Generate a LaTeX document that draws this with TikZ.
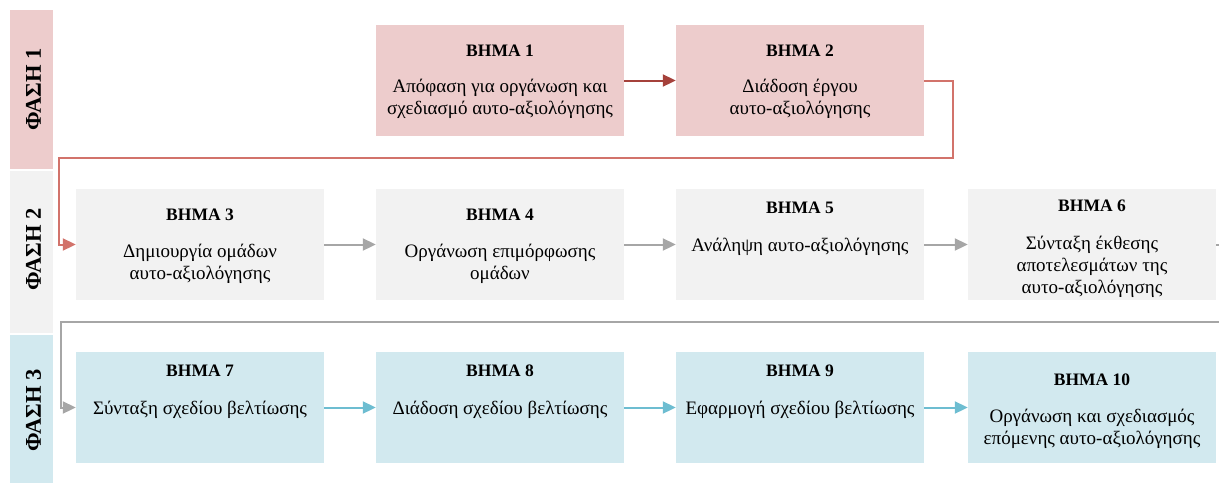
\documentclass[tikz,border=0pt]{standalone}
\usepackage{fontspec}
\setmainfont{Liberation Serif}
\usetikzlibrary{arrows.meta}
\definecolor{pinkfill}{HTML}{EDCCCC}
\definecolor{grayfill}{HTML}{F2F2F2}
\definecolor{bluefill}{HTML}{D2E9EF}
\definecolor{darkred}{HTML}{A5413B}
\definecolor{loopred}{HTML}{D2736B}
\definecolor{grayline}{HTML}{A6A6A6}
\definecolor{blueline}{HTML}{6DBDD1}
\begin{document}
\begin{tikzpicture}[x=1pt,y=-1pt,
  stepbox/.style={draw=none,inner sep=0pt,minimum width=248pt,minimum height=111pt},
  phasebar/.style={draw=none,inner sep=0pt,minimum width=43pt},
  phaselabel/.style={rotate=90,inner sep=0pt,font=\bfseries\fontsize{22.5}{26}\selectfont},
  ttl/.style={anchor=base,inner sep=0pt,font=\bfseries\fontsize{17.5}{20}\selectfont},
  body/.style={anchor=base,inner sep=0pt,font=\fontsize{19}{22}\selectfont},
  conn/.style={line width=2pt,-{Triangle[length=13pt,width=12pt]}},
]
\useasboundingbox (0,0) rectangle (1219,483);
\clip (0,0) rectangle (1219,483);

% phase bars
\node[phasebar,fill=pinkfill,minimum height=159pt] (p1) at (31.5,89.5) {};
\node[phasebar,fill=grayfill,minimum height=162pt] (p2) at (31.5,252) {};
\node[phasebar,fill=bluefill,minimum height=148pt] (p3) at (31.5,409) {};
\node[phaselabel] (l1) at (33.5,89) {ΦΑΣΗ 1};
\node[phaselabel] (l2) at (33.5,249) {ΦΑΣΗ 2};
\node[phaselabel] (l3) at (33.5,410) {ΦΑΣΗ 3};

% boxes
\node[stepbox,fill=pinkfill] (b1) at (500,80.5) {};
\node[stepbox,fill=pinkfill] (b2) at (800,80.5) {};
\node[stepbox,fill=grayfill] (b3) at (200,244.5) {};
\node[stepbox,fill=grayfill] (b4) at (500,244.5) {};
\node[stepbox,fill=grayfill] (b5) at (800,244.5) {};
\node[stepbox,fill=grayfill] (b6) at (1092,244.5) {};
\node[stepbox,fill=bluefill] (b7) at (200,407.5) {};
\node[stepbox,fill=bluefill] (b8) at (500,407.5) {};
\node[stepbox,fill=bluefill] (b9) at (800,407.5) {};
\node[stepbox,fill=bluefill] (b10) at (1092,407.5) {};

% texts
\node[ttl] (t1) at (500,56) {ΒΗΜΑ 1};
\node[body] (t1a) at (500,92.5) {Απόφαση για οργάνωση και};
\node[body] (t1b) at (500,114.5) {σχεδιασμό αυτο-αξιολόγησης};

\node[ttl] (t2) at (800,56) {ΒΗΜΑ 2};
\node[body] (t2a) at (800,92.5) {Διάδοση έργου};
\node[body] (t2b) at (800,114.5) {αυτο-αξιολόγησης};

\node[ttl] (t3) at (200,220) {ΒΗΜΑ 3};
\node[body] (t3a) at (200,257) {Δημιουργία ομάδων};
\node[body] (t3b) at (200,279) {αυτο-αξιολόγησης};

\node[ttl] (t4) at (500,220) {ΒΗΜΑ 4};
\node[body] (t4a) at (500,257.5) {Οργάνωση επιμόρφωσης};
\node[body] (t4b) at (500,279.5) {ομάδων};

\node[ttl] (t5) at (800,213) {ΒΗΜΑ 5};
\node[body] (t5a) at (800,251.5) {Ανάληψη αυτο-αξιολόγησης};

\node[ttl] (t6) at (1092,211) {ΒΗΜΑ 6};
\node[body] (t6a) at (1092,249) {Σύνταξη έκθεσης};
\node[body] (t6b) at (1092,271) {αποτελεσμάτων της};
\node[body] (t6c) at (1092,293) {αυτο-αξιολόγησης};

\node[ttl] (t7) at (200,376) {ΒΗΜΑ 7};
\node[body] (t7a) at (200,414) {Σύνταξη σχεδίου βελτίωσης};

\node[ttl] (t8) at (500,376) {ΒΗΜΑ 8};
\node[body] (t8a) at (500,414) {Διάδοση σχεδίου βελτίωσης};

\node[ttl] (t9) at (800,376) {ΒΗΜΑ 9};
\node[body] (t9a) at (800,414) {Εφαρμογή σχεδίου βελτίωσης};

\node[ttl] (t10) at (1092,385) {ΒΗΜΑ 10};
\node[body] (t10a) at (1092,422) {Οργάνωση και σχεδιασμός};
\node[body] (t10b) at (1092,444) {επόμενης αυτο-αξιολόγησης};

% connector corner points
\coordinate (r1) at (953,158);
\coordinate (r2) at (59,158);
\coordinate (g1) at (1235,244.5);
\coordinate (g2) at (1235,322);
\coordinate (g3) at (61,322);

% connectors
\draw[conn,darkred] (b1.east) -- (b2.west);
\draw[conn,loopred] (b2.east) -| (r1) -- (r2) |- (b3.west);
\draw[conn,grayline] (b3.east) -- (b4.west);
\draw[conn,grayline] (b4.east) -- (b5.west);
\draw[conn,grayline] (b5.east) -- (b6.west);
\draw[conn,grayline] (b6.east) -- (g1) -- (g2) -- (g3) |- (b7.west);
\draw[conn,blueline] (b7.east) -- (b8.west);
\draw[conn,blueline] (b8.east) -- (b9.west);
\draw[conn,blueline] (b9.east) -- (b10.west);
\end{tikzpicture}
\end{document}
